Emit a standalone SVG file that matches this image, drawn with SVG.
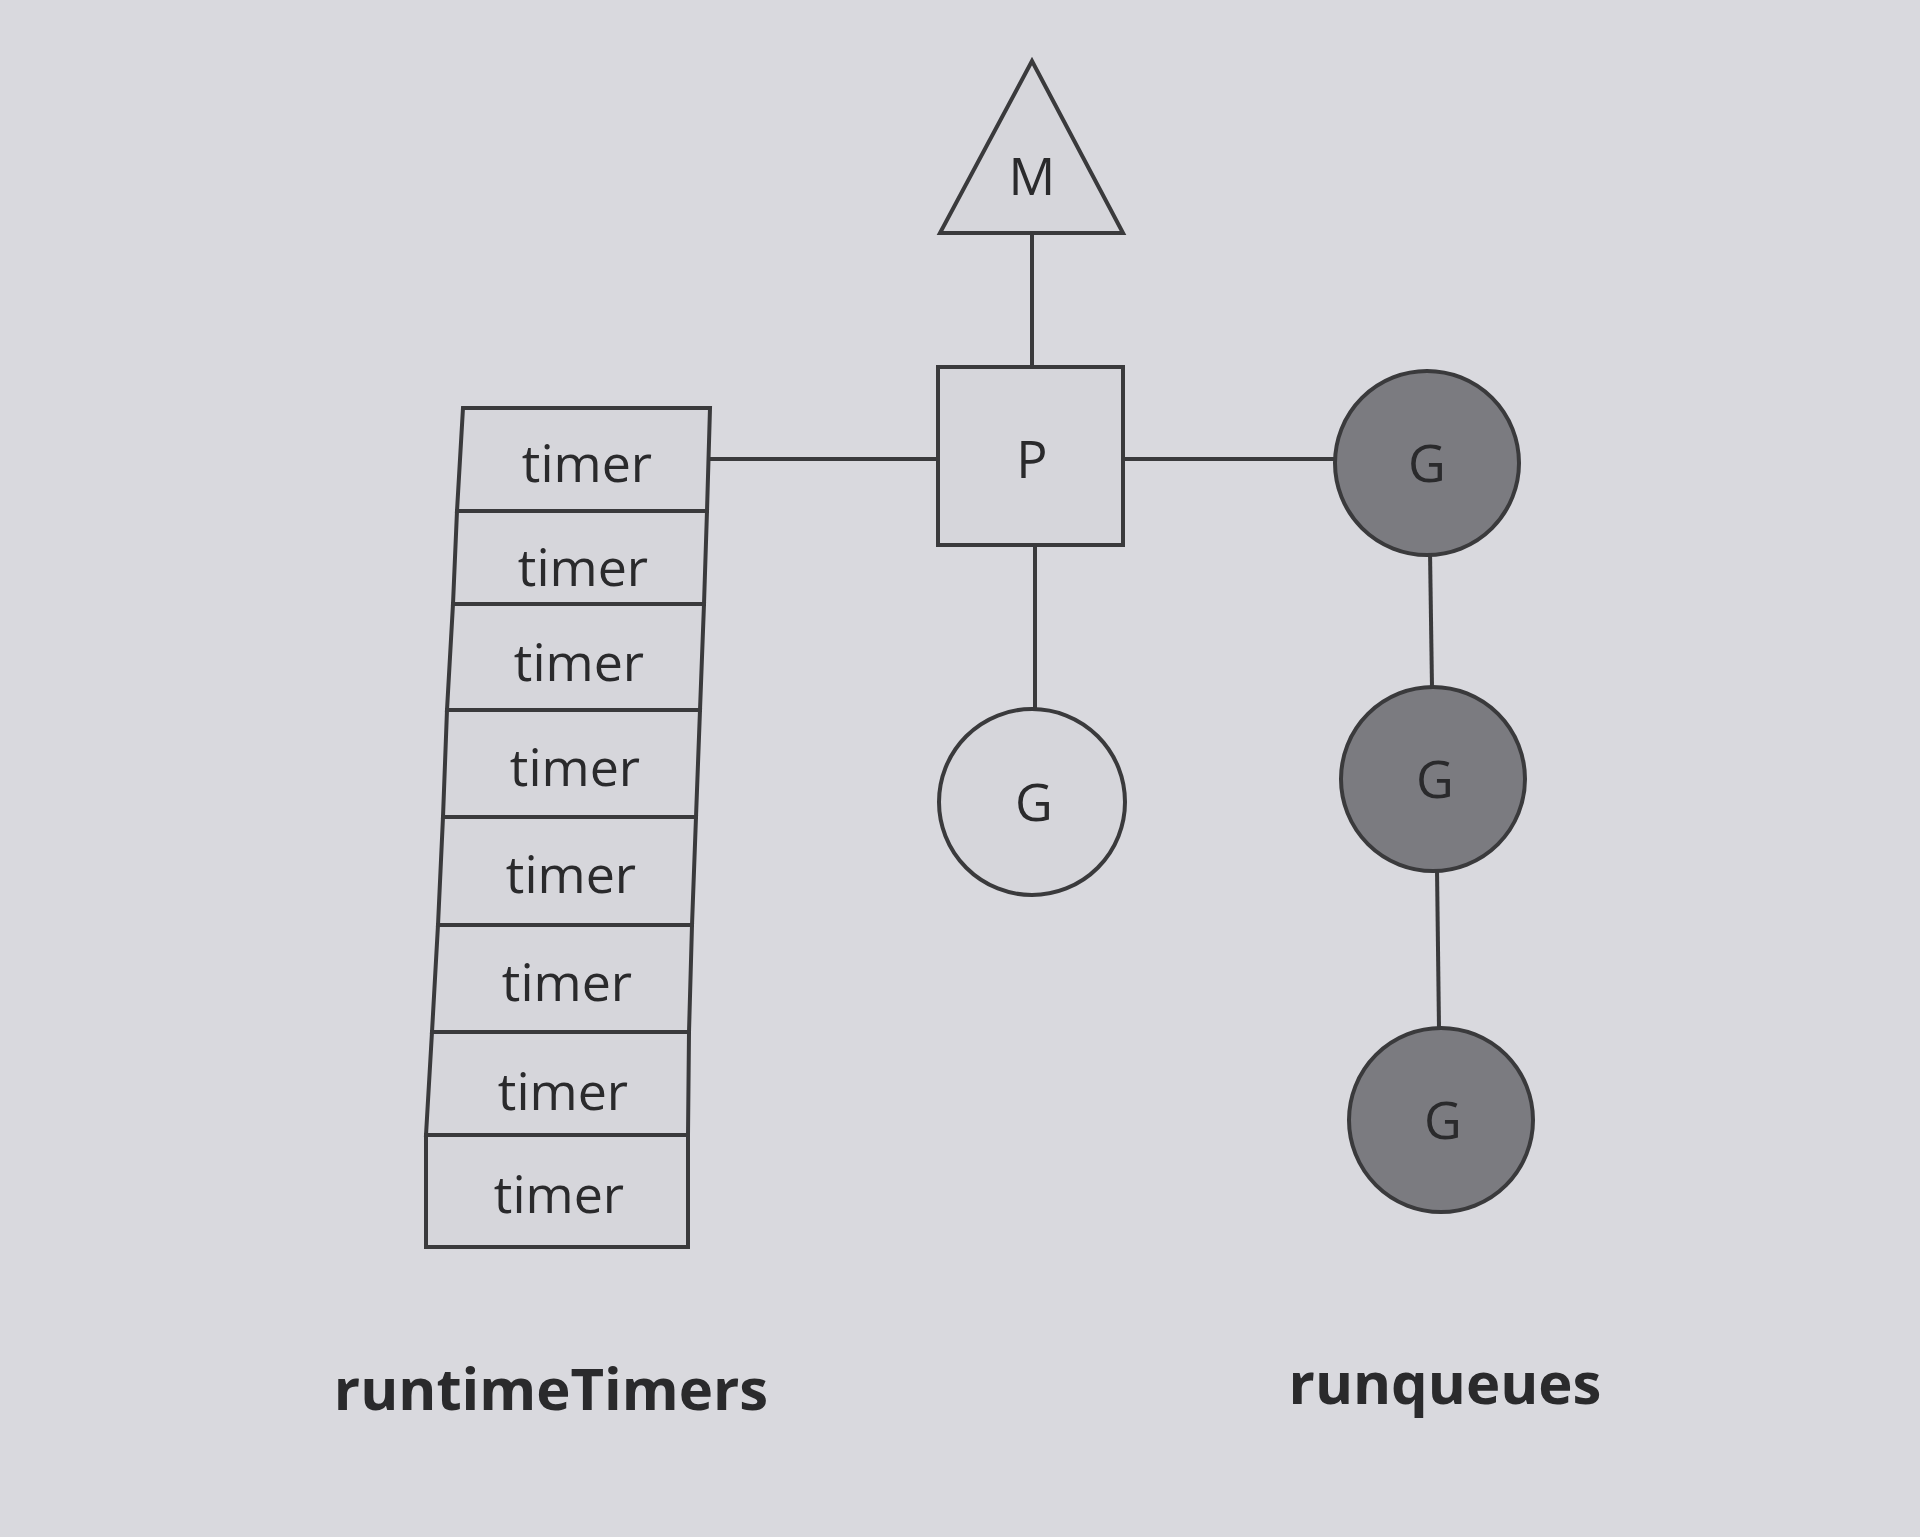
<svg xmlns="http://www.w3.org/2000/svg" width="1920" height="1537" viewBox="0 0 1920 1537">
<style>
.s{stroke:#3a3a3c;stroke-width:4;fill:none}
.b{stroke:#3a3a3c;stroke-width:4;fill:#d6d6db}
.d{stroke:#3a3a3c;stroke-width:4;fill:#7b7b80}
.t{font-family:"Open Sans","Noto Sans",sans-serif;font-size:52px;fill:#2a2a2c;text-anchor:middle}
.l{font-family:"Open Sans","Noto Sans",sans-serif;font-size:58px;font-weight:bold;fill:#2a2a2c;text-anchor:middle}
</style>
<rect width="1920" height="1537" fill="#d9d9de"/>
<g id="connectors">
<line class="s" x1="1032" y1="233" x2="1032" y2="367"/>
<line class="s" x1="710" y1="459" x2="938" y2="459"/>
<line class="s" x1="1123" y1="459" x2="1335" y2="459"/>
<line class="s" x1="1035" y1="545" x2="1035" y2="709"/>
<line class="s" x1="1430" y1="551" x2="1432" y2="688"/>
<line class="s" x1="1437" y1="869" x2="1439" y2="1028"/>
</g>
<g id="M"><polygon class="b" points="1032,61 940,233 1123,233"/><text class="t" x="1032" y="195">M</text></g>
<g id="P"><rect class="b" x="938" y="367" width="185" height="178"/><text class="t" x="1032" y="478">P</text></g>
<g id="G0"><circle class="b" cx="1032" cy="802" r="93"/><text class="t" x="1034" y="821">G</text></g>
<g id="G1"><circle class="d" cx="1427" cy="463" r="92"/><text class="t" x="1427" y="482">G</text></g>
<g id="G2"><circle class="d" cx="1433" cy="779" r="92"/><text class="t" x="1435" y="798">G</text></g>
<g id="G3"><circle class="d" cx="1441" cy="1120" r="92"/><text class="t" x="1443" y="1139">G</text></g>
<g id="timers">
<polygon class="b" points="463,408 710,408 707,511 457,511"/><text class="t" x="587" y="482">timer</text>
<polygon class="b" points="457,511 707,511 704,604 453,604"/><text class="t" x="583" y="586">timer</text>
<polygon class="b" points="453,604 704,604 700,710 447,710"/><text class="t" x="579" y="681">timer</text>
<polygon class="b" points="447,710 700,710 696,817 443,817"/><text class="t" x="575" y="786">timer</text>
<polygon class="b" points="443,817 696,817 692,925 438,925"/><text class="t" x="571" y="893">timer</text>
<polygon class="b" points="438,925 692,925 689,1032 432,1032"/><text class="t" x="567" y="1001">timer</text>
<polygon class="b" points="432,1032 689,1032 688,1135 426,1135"/><text class="t" x="563" y="1110">timer</text>
<polygon class="b" points="426,1135 688,1135 688,1247 426,1247"/><text class="t" x="559" y="1213">timer</text>
</g>
<g id="labels">
<text class="l" x="551" y="1410">runtimeTimers</text>
<text class="l" x="1445" y="1404">runqueues</text>
</g>
</svg>
